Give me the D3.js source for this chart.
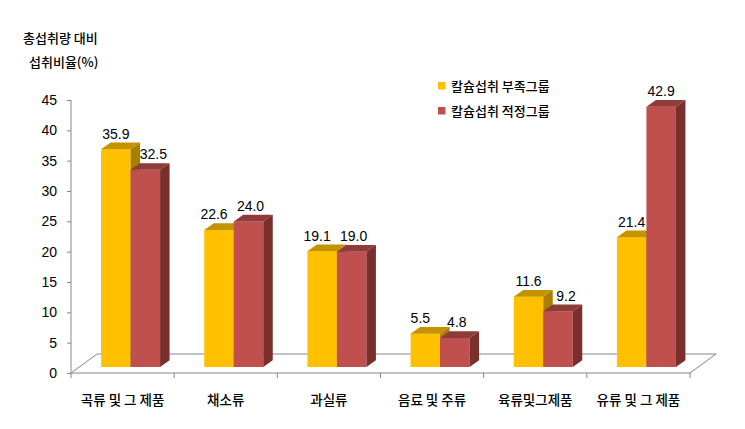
<!DOCTYPE html>
<html>
<head>
<meta charset="utf-8">
<script src="https://cdn.jsdelivr.net/npm/d3@7"></script>
<style>
  html, body { margin: 0; padding: 0; background: #fff; }
  svg text { font-family: "Liberation Sans", "Noto Sans CJK KR", sans-serif; fill: #000; }
  .kr { font-family: "Noto Sans CJK KR", sans-serif; font-weight: 500; }
</style>
</head>
<body>
<svg id="chart" width="745" height="429"></svg>
<script>
// ---- data ----
const categories = ["곡류 및 그 제품", "채소류", "과실류", "음료 및 주류", "육류및그제품", "유류 및 그 제품"];
const seriesNames = ["칼슘섭취 부족그룹", "칼슘섭취 적정그룹"];
const deficientValues = [35.9, 22.6, 19.1, 5.5, 11.6, 21.4];
const adequateValues = [32.5, 24.0, 19.0, 4.8, 9.2, 42.9];
const yTicks = [0, 5, 10, 15, 20, 25, 30, 35, 40, 45];
const yTitle = ["총섭취량 대비", "섭취비율(%)"];

// ---- styles ----
const colors = [
  { front: "#FFC000", top: "#C49400", side: "#A97F00" },
  { front: "#C0504D", top: "#8E3B39", side: "#7A2F2D" }
];

const svg = d3.select("#chart");
const plotL = 71, plotR = 690, plotT = 100, plotB = 373;
const floorDX = 26, floorDY = -19;     // depth of floor
const planeDX = 8, planeDY = -6;       // offset of bars' front face from front plane
const barDX = 9.5, barDY = -6.7;       // bar depth
const axisColor = "#868686";

const x = d3.scaleBand().domain(categories).range([plotL, plotR]).paddingInner(0).paddingOuter(0);
const y = d3.scaleLinear().domain([0, 45]).range([plotB, plotT]);
const groupWidth = 59;
const x1 = d3.scaleBand().domain(seriesNames).range([0, groupWidth]).padding(0);

// floor outline
const floor = svg.append("g").attr("fill", "none").attr("stroke", axisColor).attr("stroke-width", 1);
floor.append("path").attr("d", `M${plotL},${plotB}L${plotL + floorDX},${plotB + floorDY}L${plotR + floorDX},${plotB + floorDY}L${plotR},${plotB}`);

// y axis
const yAxis = d3.axisLeft(y).tickValues(yTicks).tickSize(4).tickPadding(10).tickFormat(d3.format("d"));
const gy = svg.append("g").attr("transform", `translate(${plotL},0)`).call(yAxis);
gy.select(".domain").attr("stroke", axisColor).attr("d", `M0,${plotB}V${plotT}`);
gy.selectAll(".tick line").attr("stroke", axisColor);
gy.selectAll(".tick text").attr("font-size", 14).attr("font-family", "Liberation Sans, sans-serif").attr("fill", "#000");

// x axis (ticks at category boundaries)
const gx = svg.append("g").attr("transform", `translate(0,${plotB})`);
gx.append("line").attr("x1", plotL).attr("x2", plotR).attr("stroke", axisColor);
const boundaries = categories.map(c => x(c)).concat([plotR]);
gx.selectAll("line.tk").data(boundaries).join("line").attr("class", "tk")
  .attr("x1", d => d).attr("x2", d => d).attr("y1", 0).attr("y2", 5).attr("stroke", axisColor);
gx.selectAll("text").data(categories).join("text").attr("class", "kr")
  .attr("x", d => x(d) + x.bandwidth() / 2).attr("y", 32)
  .attr("text-anchor", "middle").attr("font-size", 13.5).text(d => d);

// bars
const allSeries = [deficientValues, adequateValues];
const bars = svg.append("g");
categories.forEach((cat, i) => {
  const gx0 = x(cat) + x.bandwidth() / 2 - groupWidth / 2 + planeDX;
  seriesNames.forEach((s, k) => {
    const v = allSeries[k][i];
    const x0 = gx0 + x1(s), x2 = x0 + x1.bandwidth();
    const yb = y(0) + planeDY, yt = y(v) + planeDY;
    const c = colors[k];
    bars.append("rect").attr("x", x0).attr("y", yt).attr("width", x2 - x0).attr("height", yb - yt).attr("fill", c.front);
    bars.append("path").attr("d", `M${x0},${yt}L${x0 + barDX},${yt + barDY}L${x2 + barDX},${yt + barDY}L${x2},${yt}Z`).attr("fill", c.top);
    bars.append("path").attr("d", `M${x2},${yt}L${x2 + barDX},${yt + barDY}L${x2 + barDX},${yb + barDY}L${x2},${yb}Z`).attr("fill", c.side);
  });
});

// value labels
const labels = svg.append("g");
categories.forEach((cat, i) => {
  const gx0 = x(cat) + x.bandwidth() / 2 - groupWidth / 2 + planeDX;
  const a = deficientValues[i], b = adequateValues[i];
  seriesNames.forEach((s, k) => {
    const v = allSeries[k][i];
    let cx = gx0 + x1(s) + x1.bandwidth() / 2;
    if (Math.abs(a - b) < 2) cx += (k === 0 ? -5 : 2);
    else if (k === 1 && b < a) cx += 8;
    labels.append("text").attr("x", cx).attr("y", y(v) + planeDY - 15.5)
      .attr("dy", "0.35em").attr("text-anchor", "middle").attr("font-size", 14)
      .attr("font-family", "Liberation Sans, sans-serif").text(v.toFixed(1));
  });
});

// y title
svg.append("text").attr("class", "kr").attr("x", 23).attr("y", 43).attr("font-size", 13).text(yTitle[0]);
svg.append("text").attr("class", "kr").attr("x", 29).attr("y", 67).attr("font-size", 13).text(yTitle[1]);

// legend
const legend = svg.append("g");
seriesNames.forEach((s, k) => {
  const ly = 86 + k * 25;
  legend.append("rect").attr("x", 438).attr("y", ly - 4).attr("width", 7.5).attr("height", 7.5).attr("fill", colors[k].front);
  legend.append("text").attr("class", "kr").attr("x", 451).attr("y", ly).attr("dy", "0.35em").attr("font-size", 13).text(s);
});
</script>
</body>
</html>
